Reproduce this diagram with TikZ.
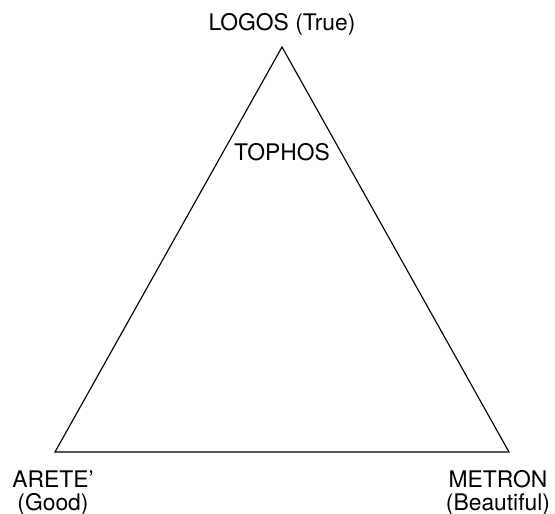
\documentclass[tikz,border=0pt]{standalone}
\usepackage{fontspec}
\setmainfont{TeX Gyre Heros}
\begin{document}
\begin{tikzpicture}[x=0.02cm,y=-0.02cm,
    lbl/.style={font=\fontsize{13}{13.2}\selectfont, align=center, inner sep=0pt}]
    \useasboundingbox (0,0) rectangle (555,514);
    \coordinate (top) at (282,47);
    \coordinate (left) at (55,452);
    \coordinate (right) at (509,452);
    \draw[line width=0.65pt, line join=miter] (top) -- (right) -- (left) -- cycle;
    \node[lbl] (logos) at (282,24) {LOGOS (True)};
    \node[lbl] (tophos) at (282,152) {TOPHOS};
    \node[lbl, anchor=north] (arete) at (53,470) {ARETE'\\(Good)};
    \node[lbl, anchor=north] (metron) at (498,470) {METRON\\(Beautiful)};
\end{tikzpicture}
\end{document}
